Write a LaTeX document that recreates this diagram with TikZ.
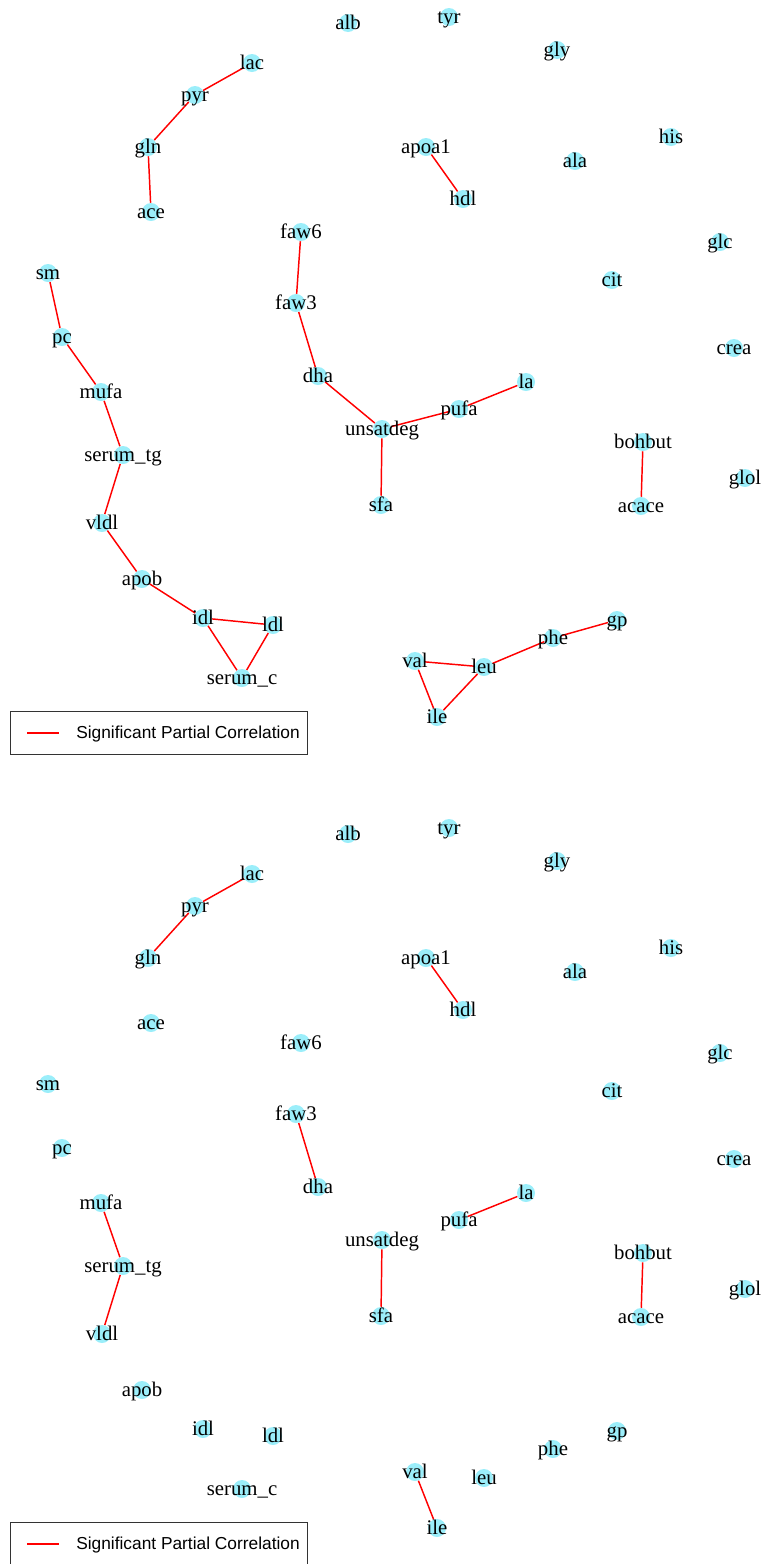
\documentclass[tikz,border=0pt]{standalone}
\usepackage{fontspec}
\setmainfont{Liberation Serif}
\newfontfamily\legendfont{Liberation Sans}
\usetikzlibrary{calc}
\pgfdeclarelayer{edges}
\pgfsetlayers{edges,main}
\definecolor{vtxfill}{RGB}{155,238,250}

% vertex name / printed label / x / y (pixel grid, y downwards)
\newcommand\vertexlist{%
  alb/alb/348/23, tyr/tyr/449/17, gly/gly/557/50, lac/lac/252/63,
  pyr/pyr/195/95, gln/gln/148/147, ace/ace/151/212, apoa1/apoa1/426/147,
  hdl/hdl/463/199, ala/ala/575/161, his/his/671/137, faw6/faw6/301/232,
  glc/glc/720/242, sm/sm/48/273, cit/cit/612/280, faw3/faw3/296/303,
  pc/pc/62/337, crea/crea/734/348, dha/dha/318/376, mufa/mufa/101/392,
  la/la/526/382, pufa/pufa/459/409, unsatdeg/unsatdeg/382/429,
  bohbut/bohbut/643/442, serumtg/serum\_tg/123/455, glol/glol/745/478,
  sfa/sfa/381/505, acace/acace/641/506, vldl/vldl/102/523, apob/apob/142/579,
  gp/gp/617/620, idl/idl/203/618, ldl/ldl/273/625, phe/phe/553/638,
  val/val/415/661, leu/leu/484/667, serumc/serum\_c/242/678, ile/ile/437/717}

% one network panel: #1 name prefix, #2 vertical offset, #3 edge list
\newcommand\networkpanel[3]{%
  \foreach \n/\t/\x/\y in \vertexlist {
    \node[vtx] (#1\n) at (\x,{\y+#2}) {};
    \node[lbl] (#1\n-text) at ($(#1\n)+(0,6.5)$) {\t};
  }
  \begin{pgfonlayer}{edges}
    \foreach \u/\v in {#3} { \draw[edge] (#1\u) -- (#1\v); }
  \end{pgfonlayer}
  \node[legendbox] (#1legend) at (159.25,{732.5+#2}) {};
  \coordinate (#1keyA) at (27,{733+#2});
  \coordinate (#1keyB) at (59,{733+#2});
  \draw[edge] (#1keyA) -- (#1keyB);
  \node[legendtext] (#1legendtext) at (76,{738.5+#2}) {Significant Partial Correlation};
}

\begin{document}
\begin{tikzpicture}[x=0.75pt,y=-0.75pt,
  vtx/.style={circle,fill=vtxfill,draw=none,minimum size=13.5pt,inner sep=0pt},
  lbl/.style={anchor=base,inner sep=0pt,font=\fontsize{15.6}{18}\selectfont},
  edge/.style={draw=red,line width=1.1pt},
  legendbox/.style={draw=black!80,line width=0.7pt,minimum width=223pt,minimum height=32.25pt,inner sep=0pt},
  legendtext/.style={anchor=base west,inner sep=0pt,font=\legendfont\fontsize{13}{15}\selectfont}]
\useasboundingbox (0,0) rectangle (765,1564);

\networkpanel{a}{0}{lac/pyr, pyr/gln, gln/ace, apoa1/hdl, faw6/faw3, faw3/dha,
  dha/unsatdeg, unsatdeg/pufa, pufa/la, unsatdeg/sfa, sm/pc, pc/mufa,
  mufa/serumtg, serumtg/vldl, vldl/apob, apob/idl, idl/ldl, idl/serumc,
  ldl/serumc, bohbut/acace, val/leu, val/ile, ile/leu, leu/phe, phe/gp}

\networkpanel{b}{811}{lac/pyr, pyr/gln, apoa1/hdl, faw3/dha, pufa/la,
  unsatdeg/sfa, mufa/serumtg, serumtg/vldl, bohbut/acace, val/ile}
\end{tikzpicture}
\end{document}
